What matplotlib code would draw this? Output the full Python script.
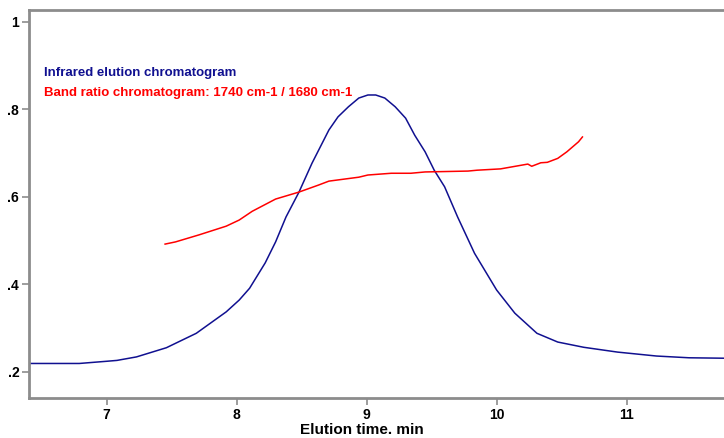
import matplotlib.pyplot as plt

plt.rcParams['font.family'] = ['Liberation Sans', 'DejaVu Sans']

# Infrared elution chromatogram (blue)
ir_time = [6.40, 6.79, 7.00, 7.08, 7.23, 7.46, 7.69, 7.92, 8.02, 8.10, 8.22, 8.30, 8.38,
           8.48, 8.58, 8.71, 8.78, 8.86, 8.94, 9.01, 9.07, 9.14, 9.22, 9.30, 9.37, 9.45,
           9.52, 9.60, 9.70, 9.83, 10.00, 10.14, 10.31, 10.47, 10.67, 10.93, 11.23,
           11.48, 11.75]
ir_abs = [0.219, 0.219, 0.224, 0.226, 0.234, 0.255, 0.288, 0.337, 0.364, 0.391, 0.449, 0.497, 0.554,
          0.611, 0.677, 0.753, 0.783, 0.806, 0.826, 0.833, 0.833, 0.826, 0.806, 0.780, 0.741, 0.703,
          0.661, 0.623, 0.554, 0.471, 0.387, 0.334, 0.288, 0.268, 0.256, 0.245, 0.236,
          0.232, 0.231]

# Band ratio chromatogram 1740/1680 (red)
ratio_time = [7.45, 7.53, 7.71, 7.92, 8.02, 8.12, 8.30, 8.48, 8.63, 8.71, 8.94, 9.01, 9.19,
              9.34, 9.45, 9.78, 9.85, 10.03, 10.24, 10.27, 10.34, 10.39, 10.47, 10.54, 10.63, 10.66]
ratio_val = [0.492, 0.497, 0.513, 0.533, 0.547, 0.567, 0.595, 0.611, 0.627, 0.636, 0.645, 0.650, 0.654,
             0.654, 0.657, 0.659, 0.661, 0.664, 0.675, 0.670, 0.678, 0.679, 0.688, 0.703, 0.726, 0.737]

x_ticks = [7, 8, 9, 10, 11]
y_ticks = [0.2, 0.4, 0.6, 0.8, 1.0]
y_labels = ['.2', '.4', '.6', '.8', '1']

fig = plt.figure(figsize=(7.24, 4.38), dpi=100)
ax = fig.add_axes([0.040, 0.0913, 0.962, 0.886])

ax.plot(ir_time, ir_abs, color='#101090', lw=1.1)
ax.plot(ratio_time, ratio_val, color='#ff0000', lw=1.1)

ax.set_xlim(6.403, 11.76)
ax.set_ylim(0.14, 1.0275)

ax.set_xticks(x_ticks)
ax.set_xticklabels([str(t) for t in x_ticks])
ax.set_yticks(y_ticks)
ax.set_yticklabels(y_labels)

grey = '#8c8c8c'
for s in ['left', 'bottom', 'top']:
    ax.spines[s].set_color(grey)
    ax.spines[s].set_linewidth(2)
ax.spines['right'].set_visible(False)
ax.tick_params(direction='out', length=5, width=1.2, color=grey, pad=2,
               labelsize=10)
for lab in ax.get_xticklabels() + ax.get_yticklabels():
    lab.set_fontweight('bold')

fig.text(0.5, 0.009, 'Elution time. min', ha='center', va='baseline',
         fontsize=11, fontweight='bold')

ax.text(0.0216, 0.838, 'Infrared elution chromatogram', transform=ax.transAxes,
        color='#101090', fontsize=9.5, fontweight='bold', va='center')
ax.text(0.0216, 0.786, 'Band ratio chromatogram: 1740 cm-1 / 1680 cm-1', transform=ax.transAxes,
        color='#ff0000', fontsize=9.5, fontweight='bold', va='center')

fig.savefig('out.png', dpi=100)
